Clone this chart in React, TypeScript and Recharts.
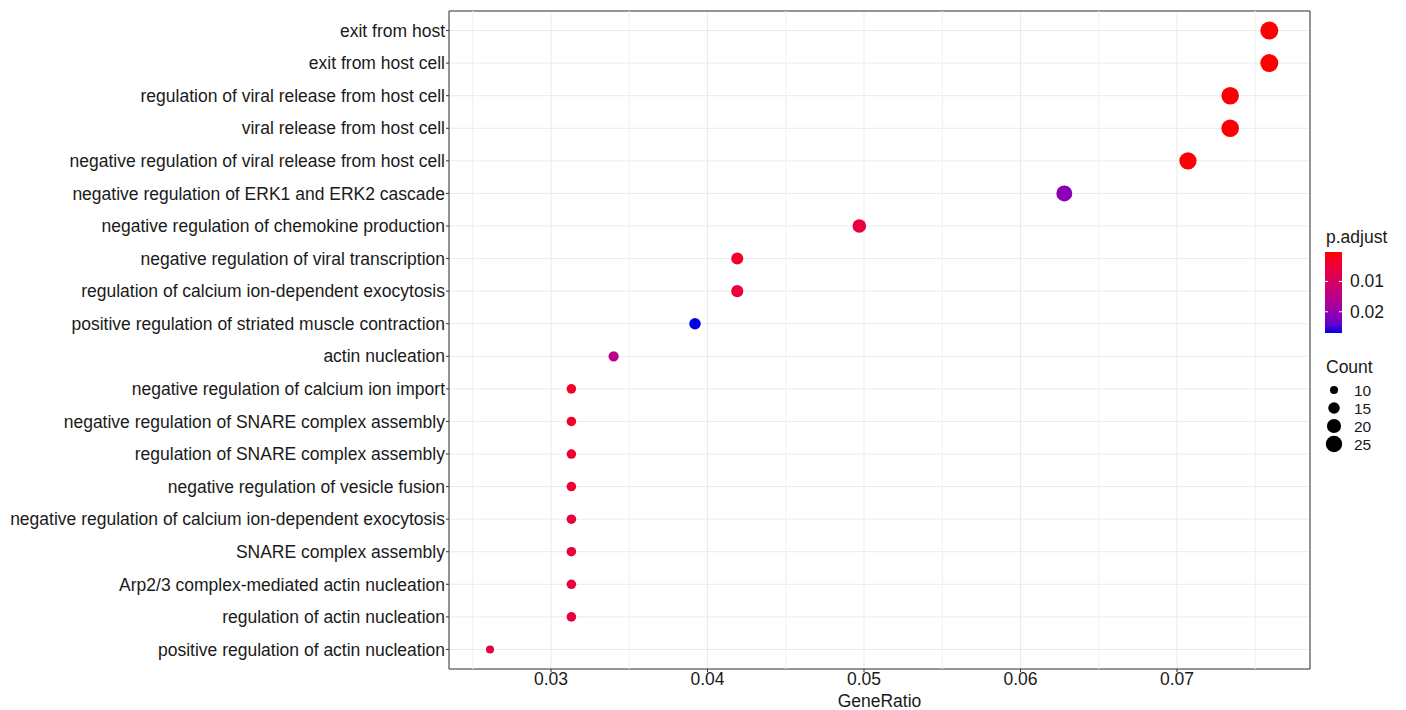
import { ScatterChart, Scatter, XAxis, YAxis, ZAxis, CartesianGrid, ReferenceLine, ReferenceArea, Cell, Label } from 'recharts';

const terms = [
  'exit from host',
  'exit from host cell',
  'regulation of viral release from host cell',
  'viral release from host cell',
  'negative regulation of viral release from host cell',
  'negative regulation of ERK1 and ERK2 cascade',
  'negative regulation of chemokine production',
  'negative regulation of viral transcription',
  'regulation of calcium ion-dependent exocytosis',
  'positive regulation of striated muscle contraction',
  'actin nucleation',
  'negative regulation of calcium ion import',
  'negative regulation of SNARE complex assembly',
  'regulation of SNARE complex assembly',
  'negative regulation of vesicle fusion',
  'negative regulation of calcium ion-dependent exocytosis',
  'SNARE complex assembly',
  'Arp2/3 complex-mediated actin nucleation',
  'regulation of actin nucleation',
  'positive regulation of actin nucleation',
];
const geneRatio = [0.0759, 0.0759, 0.0734, 0.0734, 0.0707, 0.0628, 0.0497, 0.0419, 0.0419, 0.0392, 0.034, 0.0313, 0.0313, 0.0313, 0.0313, 0.0313, 0.0313, 0.0313, 0.0313, 0.0261];
const counts = [29, 29, 28, 28, 27, 24, 19, 16, 16, 15, 13, 12, 12, 12, 12, 12, 12, 12, 12, 10];
const pAdjust = [0.0003, 0.0003, 0.0004, 0.0004, 0.0006, 0.021, 0.0055, 0.0033, 0.0047, 0.027, 0.015, 0.0025, 0.0033, 0.0036, 0.0042, 0.0052, 0.0054, 0.0056, 0.0058, 0.0055];
const xTicks = [0.03, 0.04, 0.05, 0.06, 0.07];
const xMinor = [0.025, 0.035, 0.045, 0.055, 0.065, 0.075];
const pTicks = [0.01, 0.02];
const countTicks = [10, 15, 20, 25];

const X_DOMAIN: [number, number] = [0.02348, 0.0785];
const P_MIN = Math.min(...pAdjust);
const P_MAX = Math.max(...pAdjust);
const C_MIN = Math.min(...counts);
const C_MAX = Math.max(...counts);
const R_MIN = 4;
const R_MAX = 9;

const data = terms.map((term, i) => ({ idx: i, term, ratio: geneRatio[i], count: counts[i], p: pAdjust[i] }));

// red -> blue ramp in CIELAB, like ggplot's continuous colour scale
const lin = (c: number) => { c /= 255; return c <= 0.04045 ? c / 12.92 : ((c + 0.055) / 1.055) ** 2.4; };
const unlin = (c: number) => { const v = c <= 0.0031308 ? 12.92 * c : 1.055 * c ** (1 / 2.4) - 0.055; return Math.round(Math.max(0, Math.min(1, v)) * 255); };
const WHITE = [0.95047, 1, 1.08883];
const toLab = (rgb: number[]) => {
  const [r, g, b] = rgb.map(lin);
  const xyz = [0.4124 * r + 0.3576 * g + 0.1805 * b, 0.2126 * r + 0.7152 * g + 0.0722 * b, 0.0193 * r + 0.1192 * g + 0.9505 * b];
  const f = xyz.map((v, i) => { const t = v / WHITE[i]; return t > 0.008856 ? Math.cbrt(t) : 7.787 * t + 16 / 116; });
  return [116 * f[1] - 16, 500 * (f[0] - f[1]), 200 * (f[1] - f[2])];
};
const fromLab = ([L, a, bb]: number[]) => {
  const fy = (L + 16) / 116, fx = fy + a / 500, fz = fy - bb / 200;
  const inv = (t: number) => (t ** 3 > 0.008856 ? t ** 3 : (t - 16 / 116) / 7.787);
  const [x, y, z] = [inv(fx) * WHITE[0], inv(fy) * WHITE[1], inv(fz) * WHITE[2]];
  const r = 3.2406 * x - 1.5372 * y - 0.4986 * z;
  const g = -0.9689 * x + 1.8758 * y + 0.0415 * z;
  const b = 0.0557 * x - 0.204 * y + 1.057 * z;
  return `rgb(${unlin(r)},${unlin(g)},${unlin(b)})`;
};
const LAB_LO = toLab([255, 0, 0]);
const LAB_HI = toLab([0, 0, 230]);
const pColor = (p: number) => {
  const t = (p - P_MIN) / (P_MAX - P_MIN);
  return fromLab(LAB_LO.map((v, i) => v + (LAB_HI[i] - v) * t));
};
const countRadius = (c: number) => Math.sqrt(R_MIN ** 2 + ((c - C_MIN) / (C_MAX - C_MIN)) * (R_MAX ** 2 - R_MIN ** 2));

const FONT = '"Liberation Sans", Arial, sans-serif';
const TXT = '#1a1a1a';
const FS = 17.5;

function LegendPanel() {
  const barTop = 252, barH = 81, barX = 1325, barW = 17;
  const py = (p: number) => barTop + ((p - P_MIN) / (P_MAX - P_MIN)) * barH;
  const stops = Array.from({ length: 11 }, (_, i) => i / 10);
  const countY = [390, 408, 426, 444];
  return (
    <svg width={1406} height={710} style={{ position: 'absolute', left: 0, top: 0, pointerEvents: 'none' }}>
      <defs>
        <linearGradient id="padj" x1="0" y1="0" x2="0" y2="1">
          {stops.map((s) => (
            <stop key={s} offset={s} stopColor={pColor(P_MIN + s * (P_MAX - P_MIN))} />
          ))}
        </linearGradient>
      </defs>
      <text x={1326} y={243} fontFamily={FONT} fontSize={FS} fill={TXT}>p.adjust</text>
      <rect x={barX} y={barTop} width={barW} height={barH} fill="url(#padj)" />
      {pTicks.map((p) => (
        <g key={p}>
          <line x1={barX} x2={barX + 3} y1={py(p)} y2={py(p)} stroke="#fff" strokeWidth={1} />
          <line x1={barX + barW - 3} x2={barX + barW} y1={py(p)} y2={py(p)} stroke="#fff" strokeWidth={1} />
          <text x={1350} y={py(p) + 6} fontFamily={FONT} fontSize={FS} fill={TXT}>{p}</text>
        </g>
      ))}
      <text x={1326} y={373} fontFamily={FONT} fontSize={FS} fill={TXT}>Count</text>
      {countTicks.map((c, i) => (
        <g key={c}>
          <circle cx={1334} cy={countY[i]} r={countRadius(c)} fill="#000" />
          <text x={1354} y={countY[i] + 5.5} fontFamily={FONT} fontSize={15.5} fill={TXT}>{c}</text>
        </g>
      ))}
    </svg>
  );
}

export default function App() {
  return (
    <div style={{ position: 'absolute', left: 0, top: 0, width: 1406, height: 710, background: '#fff' }}>
      <ScatterChart width={1406} height={710} margin={{ top: 11, right: 96, bottom: 0, left: 0 }}>
        <CartesianGrid stroke="#ebebeb" strokeWidth={1} />
        {xMinor.map((v) => (
          <ReferenceLine key={v} x={v} stroke="#f0f0f0" strokeWidth={1} />
        ))}
        <XAxis
          type="number"
          dataKey="ratio"
          domain={X_DOMAIN}
          ticks={xTicks}
          allowDataOverflow
          axisLine={false}
          tickLine={{ stroke: '#333' }}
          tickSize={3}
          tickMargin={1}
          height={41}
          tick={{ fontSize: FS, fill: TXT, fontFamily: FONT }}
        >
          <Label value="GeneRatio" position="insideBottom" offset={3} style={{ fontSize: FS, fill: TXT, fontFamily: FONT }} />
        </XAxis>
        <YAxis
          type="number"
          dataKey="idx"
          domain={[-0.6, terms.length - 0.4]}
          ticks={terms.map((_, i) => i)}
          reversed
          interval={0}
          allowDataOverflow
          width={449}
          axisLine={false}
          tickLine={{ stroke: '#333' }}
          tickSize={3}
          tickMargin={1}
          tickFormatter={(v: number) => terms[v]}
          tick={{ fontSize: FS, fill: TXT, fontFamily: FONT }}
        />
        <ZAxis type="number" dataKey="count" domain={[C_MIN, C_MAX]} range={[Math.PI * R_MIN ** 2, Math.PI * R_MAX ** 2]} />
        <ReferenceArea x1={X_DOMAIN[0]} x2={X_DOMAIN[1]} y1={-0.6} y2={terms.length - 0.4} fill="none" stroke="#333" strokeWidth={1} ifOverflow="visible" />
        <Scatter data={data} isAnimationActive={false}>
          {data.map((d) => (
            <Cell key={d.term} fill={pColor(d.p)} />
          ))}
        </Scatter>
      </ScatterChart>
      <LegendPanel />
    </div>
  );
}
